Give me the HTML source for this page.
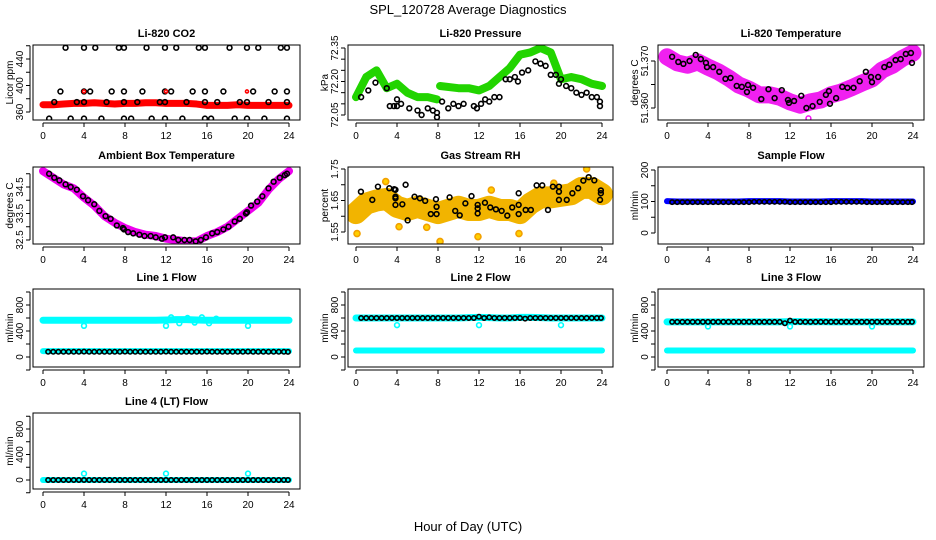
<!DOCTYPE html>
<html><head><meta charset="utf-8"><title>SPL_120728 Average Diagnostics</title>
<style>
html,body{margin:0;padding:0;background:#fff;}
svg{display:block;font-family:"Liberation Sans",sans-serif;}
</style></head>
<body>
<svg id="chart" width="936" height="540" viewBox="0 0 936 540">
<rect x="0" y="0" width="936" height="540" fill="#fff"/>
<text x="468" y="14" text-anchor="middle" font-size="13">SPL_120728  Average Diagnostics</text>
<text x="468" y="531" text-anchor="middle" font-size="13">Hour of Day (UTC)</text>
<g id="panels"></g>
</svg>
<script>
// ---------- shared hours ----------
const hourly = [0,1,2,3,4,5,6,7,8,9,10,11,12,13,14,15,16,17,18,19,20,21,22,23,24];
const halfHours = [0.5,1,1.5,2,2.5,3,3.5,4,4.5,5,5.5,6,6.5,7,7.5,8,8.5,9,9.5,10,10.5,11,11.5,12,12.5,13,13.5,14,14.5,15,15.5,16,16.5,17,17.5,18,18.5,19,19.5,20,20.5,21,21.5,22,22.5,23,23.5,23.9];
const xTickLabels = [0,4,8,12,16,20,24];

// ---------- Li-820 CO2 ----------
const co2Band = [371,371,372,373,373,374,373,372,373,373,374,374,373,373,373,372,370,370,370,371,370,370,370,370,370];
const co2PtsX = [2.2,4,5.1,7.4,7.9,10.1,11.9,13,15.2,15.8,18.2,19.9,21,23.2,23.8, 1.7,4,4.6,6.7,7.9,9.7,11.9,12.5,14.6,15.8,17.6,20.5,22.6,23.8, 0.6,2.7,4,5.7,7.9,8.6,10.6,11.9,13.6,15.8,16.4,18.7,19.9,21.6,23.8, 1.1,3.3,4,6.2,7.9,9.2,11.4,11.9,14,15.8,17,19.2,19.9,22,23.8];
const co2PtsV = [457,457,457,457,457,457,457,457,457,457,457,457,457,457,457, 391,391,391,391,391,391,391,391,391,391,391,391,391,391, 350,350,350,350,350,350,350,350,350,350,350,350,350,350,350, 375,375,375,375,375,375,375,375,375,375,375,375,375,375,375];
const co2RedX = [4,12,19.9];
const co2RedV = [391,391,391];

// ---------- Li-820 Pressure ----------
const presBand1 = [72.13,72.22,72.25,72.17,72.19,72.15,72.13,72.13,72.12];
const presBand1X = [0,1,2,3,4,5,6,7,7.9];
const presBand2 = [72.18,72.17,72.17,72.16,72.18,72.22,72.26,72.32,72.33,72.35,72.33,72.21,72.22,72.21,72.19,72.18];
const presBand2X = [8.2,10,11,12,13,14,15,16,17,18,19,20,21,22,23,24];
const presPtsX = [0.5,1.2,1.9,3,3.3,3.7,4,4,4.4,5.2,6,6.4,7,7.5,7.9,7.9,8.4,9,9.5,10,10.5,11.5,11.8,12.2,12.6,13,13.5,14,14.6,15,15.5,15.8,16.2,16.8,17.5,18,18.5,19,19.5,19.8,20,20.5,21,21.5,22,22.5,23,23.5,23.8,23.8];
const presPtsV = [72.13,72.16,72.195,72.17,72.09,72.09,72.09,72.12,72.10,72.08,72.07,72.05,72.08,72.07,72.06,72.04,72.11,72.08,72.10,72.09,72.10,72.09,72.08,72.10,72.12,72.11,72.13,72.13,72.21,72.21,72.22,72.20,72.24,72.25,72.29,72.28,72.27,72.23,72.23,72.19,72.21,72.18,72.17,72.15,72.14,72.15,72.13,72.13,72.11,72.09];

// ---------- Li-820 Temperature ----------
const tempBand = [51.3709,51.3696,51.3691,51.3698,51.3687,51.3677,51.3664,51.3649,51.3640,51.3628,51.3628,51.3623,51.3613,51.3606,51.3613,51.3617,51.3628,51.3634,51.3643,51.3653,51.3662,51.3681,51.3691,51.3706,51.3717];
const tempPtsX = [0.5,1.1,1.6,2.2,2.8,3.3,3.8,3.9,4.5,5.1,5.7,6.2,6.8,7.3,7.8,7.9,8.4,9.2,9.9,10.5,11.2,11.8,11.9,12.4,13.1,13.6,14.2,14.9,15.5,15.8,15.9,16.5,17.1,17.6,18.2,18.8,19.4,19.9,20.0,20.6,21.2,21.7,22.3,22.8,23.3,23.8,23.9];
const tempPtsV = [51.3709,51.3698,51.3694,51.3700,51.3713,51.3704,51.3696,51.3687,51.3687,51.3677,51.3662,51.3664,51.3647,51.3645,51.3634,51.3649,51.3643,51.3619,51.3640,51.3621,51.3638,51.3617,51.3611,51.3615,51.3626,51.3600,51.3604,51.3613,51.3628,51.3636,51.3609,51.3621,51.3645,51.3643,51.3643,51.3657,51.3677,51.3666,51.3655,51.3666,51.3687,51.3692,51.3702,51.3704,51.3715,51.3717,51.3696];
const tempOutX = [13.8];
const tempOutV = [51.3578];

// ---------- Ambient Box Temperature ----------
const ambBand = [35.1,34.85,34.6,34.45,34.1,33.8,33.4,33.15,32.95,32.8,32.7,32.65,32.55,32.5,32.45,32.45,32.65,32.8,33.0,33.3,33.6,33.9,34.4,34.8,35.1];
const ambPtsX = [0.6,1.1,1.6,2.2,2.7,3.3,3.9,4.4,5,5.5,6.1,6.6,7.2,7.8,7.9,8.3,8.8,9.4,9.9,10.5,11,11.6,11.9,12.7,13.2,13.8,14.3,14.9,15.4,15.9,16.5,17,17.6,18.1,18.7,19.2,19.8,19.9,20.3,20.9,21.4,22,22.5,23.1,23.6,23.8];
const ambPtsV = [35.0,34.85,34.75,34.6,34.5,34.4,34.15,34.0,33.85,33.6,33.4,33.3,33.05,32.95,32.9,32.8,32.75,32.7,32.65,32.65,32.6,32.55,32.6,32.6,32.5,32.5,32.5,32.45,32.5,32.6,32.75,32.8,32.9,33.0,33.2,33.3,33.5,33.55,33.8,33.95,34.15,34.45,34.7,34.85,34.95,35.0];

// ---------- Gas Stream RH ----------
const rhBand = [1.61,1.64,1.65,1.655,1.63,1.62,1.63,1.62,1.61,1.62,1.63,1.62,1.62,1.63,1.62,1.62,1.61,1.64,1.66,1.66,1.665,1.67,1.69,1.69,1.67];
const rhOutX = [0.1,4.2,8.2,11.9,15.9,22.5,2.9,6.9,13.2,19.3];
const rhOutV = [1.545,1.567,1.52,1.535,1.545,1.75,1.71,1.565,1.683,1.705];
const rhPtsX = [0.48,2.14,1.59,3.25,3.73,4.84,3.85,3.85,3.85,3.85,4.52,5.04,5.71,6.23,6.75,7.3,7.8,7.86,7.86,9.13,9.68,10.12,10.67,11.27,11.87,11.87,11.87,12.58,13.1,13.65,14.21,14.76,15.24,15.87,15.87,15.87,16.55,17.06,17.62,18.17,18.73,19.21,19.8,19.8,19.8,20.56,21.11,21.67,22.18,22.7,23.25,23.81,23.89,23.89];
const rhPtsV = [1.678,1.694,1.652,1.689,1.686,1.70,1.684,1.662,1.657,1.636,1.638,1.587,1.662,1.657,1.649,1.607,1.654,1.63,1.607,1.66,1.617,1.603,1.641,1.664,1.636,1.625,1.609,1.643,1.628,1.622,1.617,1.602,1.628,1.636,1.607,1.673,1.62,1.62,1.698,1.698,1.62,1.694,1.694,1.678,1.652,1.652,1.673,1.689,1.713,1.724,1.714,1.652,1.673,1.682];

// ---------- Sample Flow ----------
const sampleBand = [101,100,100,100,100,100,100,100,101,101,101,101,100,100,100,100,101,101,101,101,100,100,100,100,100];
const sampleBlack = [98,98,98,98,98,98,98,98,98,98,98,98,98,98,98,98,99,99,99,99,99,99,99,98,98,98,98,98,98,98,98,98,99,99,99,99,99,99,98,98,98,98,98,98,98,98,98,98];

// ---------- Line 1 Flow ----------
const line1High = [565,565,565,565,565,565,565,565,565,565,565,565,570,575,575,570,565,565,565,565,565,565,565,565,565];
const line1Low = [90,90,90,90,90,90,90,90,90,90,90,90,90,90,90,90,90,90,90,90,90,90,90,90,90];
const line1Black = [80,80,80,80,80,80,80,82,80,80,80,80,80,80,80,82,80,80,80,80,80,80,80,82,80,80,80,80,80,80,80,82,80,80,80,80,80,80,80,82,80,80,80,80,80,80,80,78];
const line1OutX = [4,12,20,12.5,13.3,14.1,14.8,15.5,16.2,16.9];
const line1OutV = [480,480,480,610,520,600,530,610,520,590];

// ---------- Line 2 Flow ----------
const line2High = [600,600,600,600,600,600,600,600,600,600,600,605,610,605,600,600,610,610,605,600,600,600,600,600,600];
const line2Low = [100,100,100,100,100,100,100,100,100,100,100,100,100,100,100,100,100,100,100,100,100,100,100,100,100];
const line2Black = [600,600,600,600,600,600,600,600,600,600,600,600,600,600,600,600,600,600,600,600,600,600,600,620,600,610,600,600,600,600,600,600,590,600,600,600,600,600,600,600,600,600,600,600,600,600,600,600];
const line2OutX = [4,12,20];
const line2OutV = [490,490,490];

// ---------- Line 3 Flow ----------
const line3High = [540,540,540,540,540,540,540,540,540,540,540,540,545,545,540,545,540,540,540,540,540,540,540,540,540];
const line3Low = [100,100,100,100,100,100,100,100,100,100,100,100,100,100,100,100,100,100,100,100,100,100,100,100,100];
const line3Black = [540,540,540,540,540,540,540,540,540,540,540,540,540,540,540,540,540,540,540,540,540,540,520,560,540,540,540,540,540,540,540,540,540,540,540,540,540,540,540,540,540,540,540,540,540,540,540,540];
const line3OutX = [4,12,20];
const line3OutV = [470,470,470];

// ---------- Line 4 (LT) Flow ----------
const line4Band = [0,0,0,0,0,0,0,0,0,0,0,0,0,0,0,0,0,0,0,0,0,0,0,0,0];
const line4Black = [0,0,0,0,0,0,0,0,0,0,0,0,0,0,0,0,0,0,0,0,0,0,0,0,0,0,0,0,0,0,0,0,0,0,0,0,0,0,0,0,0,0,0,0,0,0,0,0];
const line4OutX = [4,12,20];
const line4OutV = [100,100,100];

// ---------- axis ticks ----------
const co2Ticks = [360,380,400,420,440,460];
const co2Labels = [360,400,440];
const presTicks = [72.05,72.10,72.15,72.20,72.25,72.30,72.35];
const presLabels = [72.05,72.20,72.35];
const tempTicks = [51.360,51.365,51.370];
const tempLabels = [51.360,51.370];
const ambTicks = [32.5,33.0,33.5,34.0,34.5,35.0];
const ambLabels = [32.5,33.5,34.5];
const rhTicks = [1.55,1.60,1.65,1.70,1.75];
const rhLabels = [1.55,1.65,1.75];
const sampleTicks = [0,50,100,150,200];
const sampleLabels = [0,100,200];
const flowTicks = [-200,0,200,400,600,800,1000];
const flowLabels = [0,400,800];

const NS = "http://www.w3.org/2000/svg";
const root = document.getElementById('panels');
function el(tag, attrs, parent){
  const e = document.createElementNS(NS, tag);
  for (const k in attrs) e.setAttribute(k, attrs[k]);
  (parent||root).appendChild(e);
  return e;
}
function fmt(v, dec){ return dec==null ? String(v) : v.toFixed(dec); }

function makePanel(cfg){
  const g = el('g', {});
  
  
  const xs = h => cfg.xa + h*(cfg.xb-cfg.xa)/24;
  const ys = v => cfg.p1 + (v-cfg.v1)*(cfg.p2-cfg.p1)/(cfg.v2-cfg.v1);
  const t = el('text', {x:(cfg.x0+cfg.x1)/2, y:cfg.y0-8, 'text-anchor':'middle', 'font-size':11, 'font-weight':'bold'}, g);
  t.textContent = cfg.title;
  
  
  const yl = el('text', {x:0, y:0, 'text-anchor':'middle', 'font-size':10, transform:`translate(${cfg.x0-20},${(cfg.y0+cfg.y1)/2}) rotate(-90)`}, g);
  yl.textContent = cfg.ylab;
  
  
  // x axis
  const xa = el('g', {}, g);
  
  
  el('line', {x1:xs(0), x2:xs(24), y1:cfg.y1+3, y2:cfg.y1+3, stroke:'#000', 'stroke-width':1}, xa);
  xTickLabels.forEach(h=>{
    el('line', {x1:xs(h), x2:xs(h), y1:cfg.y1+3, y2:cfg.y1+7, stroke:'#000', 'stroke-width':1}, xa);
    const tl = el('text', {x:xs(h), y:cfg.y1+19, 'text-anchor':'middle', 'font-size':10}, xa);
    tl.textContent = h;
    
    
  });
  // y axis
  const ya = el('g', {}, g);
  
  
  const tk = cfg.ticks;
  el('line', {x1:cfg.x0-3, x2:cfg.x0-3, y1:ys(tk[0]), y2:ys(tk[tk.length-1]), stroke:'#000', 'stroke-width':1}, ya);
  tk.forEach(v=>{
    el('line', {x1:cfg.x0-3, x2:cfg.x0-7, y1:ys(v), y2:ys(v), stroke:'#000', 'stroke-width':1}, ya);
  });
  cfg.labels.forEach(v=>{
    const tl = el('text', {x:0, y:0, 'text-anchor':'middle', 'font-size':10, transform:`translate(${cfg.x0-10},${ys(v)}) rotate(-90)`}, ya);
    tl.textContent = fmt(v, cfg.dec);
    
    
  });
  // clip
  const cid = 'clip-' + cfg.name;
  const cp = el('clipPath', {id:cid}, g);
  el('rect', {x:cfg.x0, y:cfg.y0, width:cfg.x1-cfg.x0, height:cfg.y1-cfg.y0}, cp);
  const plot = el('g', {'clip-path':`url(#${cid})`}, g);
  
  
  cfg.series.forEach(s=>{
    const sg = el('g', {}, plot);
    
    
    if (s.type === 'band'){
      const pts = s.x.map((h,i)=>xs(h)+','+ys(s.v[i])).join(' ');
      const pl = el('polyline', {points:pts, fill:'none', stroke:s.color, 'stroke-width':s.w, 'stroke-linecap':'round', 'stroke-linejoin':'round'}, sg);
      
      
    } else {
      s.x.forEach((h,i)=>{
        const c = el('circle', {cx:xs(h), cy:ys(s.v[i]), r:s.r||2.4, fill:s.fill||'none', stroke:s.color, 'stroke-width':s.sw||1.6}, sg);
        
        
      });
    }
  });
  el('rect', {x:cfg.x0, y:cfg.y0, width:cfg.x1-cfg.x0, height:cfg.y1-cfg.y0, fill:'none', stroke:'#000', 'stroke-width':1}, g);
}

const C1 = [33,300,43,289], C2 = [348,613,356,602], C3 = [658,924,667,913];
const R1 = [45,120], R2 = [167,244], R3 = [289,367], R4 = [413,489];
function box(c, r){ return {x0:c[0], x1:c[1], xa:c[2], xb:c[3], y0:r[0], y1:r[1]}; }

const panelDefs = [
  Object.assign(box(C1,R1), {name:'co2', title:'Li-820 CO2', ylab:'Licor ppm', v1:360, p1:112, v2:440, p2:59, ticks:co2Ticks, labels:co2Labels,
    series:[{type:'band', name:'co2-band', x:hourly, v:co2Band, color:'#ff0000', w:7},
            {type:'pts', name:'co2-points', x:co2PtsX, v:co2PtsV, color:'#000'},
            {type:'pts', name:'co2-red-points', x:co2RedX, v:co2RedV, color:'#ff0000', r:1.5}]}),
  Object.assign(box(C2,R1), {name:'pressure', title:'Li-820 Pressure', ylab:'kPa', v1:72.35, p1:48, v2:72.05, p2:115, ticks:presTicks, labels:presLabels, dec:2,
    series:[{type:'band', name:'pressure-band-a', x:presBand1X, v:presBand1, color:'#22d400', w:8},
            {type:'band', name:'pressure-band-b', x:presBand2X, v:presBand2, color:'#22d400', w:8},
            {type:'pts', name:'pressure-points', x:presPtsX, v:presPtsV, color:'#000'}]}),
  Object.assign(box(C3,R1), {name:'li820-temp', title:'Li-820 Temperature', ylab:'degrees C', v1:51.370, p1:61, v2:51.360, p2:108, ticks:tempTicks, labels:tempLabels, dec:3,
    series:[{type:'band', name:'li820-temp-band', x:hourly, v:tempBand, color:'#f020f0', w:17},
            {type:'pts', name:'li820-temp-outlier', x:tempOutX, v:tempOutV, color:'#f020f0'},
            {type:'pts', name:'li820-temp-points', x:tempPtsX, v:tempPtsV, color:'#000'}]}),
  Object.assign(box(C1,R2), {name:'ambient', title:'Ambient Box Temperature', ylab:'degrees C', v1:32.5, p1:240, v2:34.5, p2:187, ticks:ambTicks, labels:ambLabels, dec:1,
    series:[{type:'band', name:'ambient-band', x:hourly, v:ambBand, color:'#ee00ee', w:8},
            {type:'pts', name:'ambient-points', x:ambPtsX, v:ambPtsV, color:'#000'}]}),
  Object.assign(box(C2,R2), {name:'gas-rh', title:'Gas Stream RH', ylab:'percent', v1:1.55, p1:232, v2:1.75, p2:169, ticks:rhTicks, labels:rhLabels, dec:2,
    series:[{type:'band', name:'gas-rh-band', x:hourly, v:rhBand, color:'#f2b400', w:22},
            {type:'pts', name:'gas-rh-outliers', x:rhOutX, v:rhOutV, color:'#f2a000', fill:'#ffd000', r:3},
            {type:'pts', name:'gas-rh-points', x:rhPtsX, v:rhPtsV, color:'#000'}]}),
  Object.assign(box(C3,R2), {name:'sample-flow', title:'Sample Flow', ylab:'ml/min', v1:0, p1:233, v2:200, p2:170, ticks:sampleTicks, labels:sampleLabels,
    series:[{type:'band', name:'sample-flow-band', x:hourly, v:sampleBand, color:'#0000ff', w:6},
            {type:'pts', name:'sample-flow-points', x:halfHours, v:sampleBlack, color:'#000', r:2.2}]}),
  Object.assign(box(C1,R3), {name:'line1', title:'Line 1 Flow', ylab:'ml/min', v1:0, p1:357, v2:800, p2:305, ticks:flowTicks, labels:flowLabels,
    series:[{type:'band', name:'line1-high-band', x:hourly, v:line1High, color:'#00ffff', w:7},
            {type:'band', name:'line1-low-band', x:hourly, v:line1Low, color:'#00ffff', w:6},
            {type:'pts', name:'line1-cyan-points', x:line1OutX, v:line1OutV, color:'#00ffff'},
            {type:'pts', name:'line1-points', x:halfHours, v:line1Black, color:'#000', r:2.2}]}),
  Object.assign(box(C2,R3), {name:'line2', title:'Line 2 Flow', ylab:'ml/min', v1:0, p1:357, v2:800, p2:305, ticks:flowTicks, labels:flowLabels,
    series:[{type:'band', name:'line2-high-band', x:hourly, v:line2High, color:'#00ffff', w:7},
            {type:'band', name:'line2-low-band', x:hourly, v:line2Low, color:'#00ffff', w:6},
            {type:'pts', name:'line2-cyan-points', x:line2OutX, v:line2OutV, color:'#00ffff'},
            {type:'pts', name:'line2-points', x:halfHours, v:line2Black, color:'#000', r:2.2}]}),
  Object.assign(box(C3,R3), {name:'line3', title:'Line 3 Flow', ylab:'ml/min', v1:0, p1:357, v2:800, p2:305, ticks:flowTicks, labels:flowLabels,
    series:[{type:'band', name:'line3-high-band', x:hourly, v:line3High, color:'#00ffff', w:7},
            {type:'band', name:'line3-low-band', x:hourly, v:line3Low, color:'#00ffff', w:6},
            {type:'pts', name:'line3-cyan-points', x:line3OutX, v:line3OutV, color:'#00ffff'},
            {type:'pts', name:'line3-points', x:halfHours, v:line3Black, color:'#000', r:2.2}]}),
  Object.assign(box(C1,R4), {name:'line4', title:'Line 4 (LT) Flow', ylab:'ml/min', v1:0, p1:480, v2:800, p2:429, ticks:flowTicks, labels:flowLabels,
    series:[{type:'band', name:'line4-band', x:hourly, v:line4Band, color:'#00ffff', w:6},
            {type:'pts', name:'line4-cyan-points', x:line4OutX, v:line4OutV, color:'#00ffff'},
            {type:'pts', name:'line4-points', x:halfHours, v:line4Black, color:'#000', r:2.2}]})
];
panelDefs.forEach(makePanel);
</script>
</body></html>
